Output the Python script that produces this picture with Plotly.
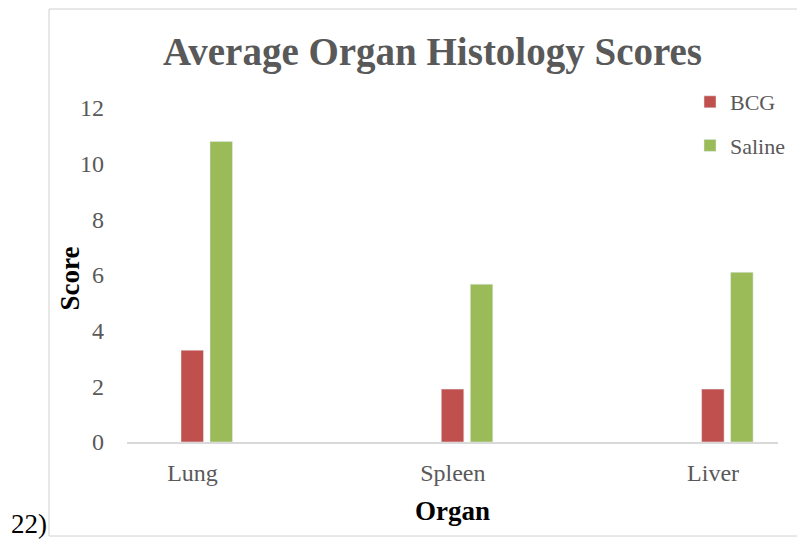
import plotly.graph_objects as go

organs = ["Lung", "Spleen", "Liver"]
bcg = [3.3, 1.9, 1.9]
saline = [10.8, 5.67, 6.1]
y_ticks = [0, 2, 4, 6, 8, 10, 12]

# page body has an 8px margin; the figure starts at (8, 8) on screen
OFF = 8
W, H = 805 - OFF, 540 - OFF
L, R, T, B = 127 - OFF, 27, 108 - OFF, H - (442 - OFF)
pw, ph = W - L - R, H - T - B

def px(x):  # screen x -> paper
    return (x - OFF - L) / pw

def py(y):  # screen y -> paper
    return (H - B - (y - OFF)) / ph

FONT = "Liberation Serif"
GRAY = "#595959"

unit = 260.3          # pixels per category
c0 = 192.5            # screen x of first category centre
bar_w = 22.5 / unit

fig = go.Figure()
fig.add_trace(go.Bar(x=organs, y=bcg, name="BCG", marker_color="#C0504D",
                     width=bar_w, offset=(181 - c0) / unit, legendgroup="a"))
fig.add_trace(go.Bar(x=organs, y=saline, name="Saline", marker_color="#9BBB59",
                     width=bar_w, offset=(210 - c0) / unit, legendgroup="b"))

frame = dict(color="#d0d0d0", width=1)
fx0, fx1, fy0, fy1 = px(49), px(830), py(536), py(9)

fig.update_layout(
    width=W, height=H,
    margin=dict(l=L, r=R, t=T, b=B, autoexpand=False),
    paper_bgcolor="white", plot_bgcolor="white",
    barmode="overlay",
    showlegend=True,
    legend=dict(x=px(690), y=py(81), xanchor="left", yanchor="top",
                font=dict(family=FONT, size=22, color=GRAY),
                tracegroupgap=12, bgcolor="rgba(0,0,0,0)"),
    xaxis=dict(type="category", range=[-(c0 - 127) / unit, 2 + (778 - (c0 + 2 * unit)) / unit],
               showline=True, linecolor="#d9d9d9", linewidth=2, ticks="",
               showgrid=False, tickfont=dict(family=FONT, size=24, color=GRAY),
               ticklabelstandoff=8),
    yaxis=dict(range=[0, 12], tickvals=y_ticks, showgrid=False, zeroline=False,
               showline=False, ticks="", tickfont=dict(family=FONT, size=24, color=GRAY),
               ticklabelstandoff=22),
    shapes=[
        dict(type="line", xref="paper", yref="paper", x0=fx0, x1=fx0, y0=fy0, y1=fy1, line=frame, layer="below"),
        dict(type="line", xref="paper", yref="paper", x0=fx0, x1=fx1, y0=fy1, y1=fy1, line=frame, layer="below"),
        dict(type="line", xref="paper", yref="paper", x0=fx0, x1=fx1, y0=fy0, y1=fy0, line=frame, layer="below"),
    ],
    annotations=[
        dict(text="<b>Average Organ Histology Scores</b>", xref="paper", yref="paper",
             x=px(432), y=py(52), xanchor="center", yanchor="middle", showarrow=False,
             font=dict(family=FONT, size=39, color=GRAY)),
        dict(text="<b>Score</b>", xref="paper", yref="paper", x=px(69.5), y=py(279),
             xanchor="center", yanchor="middle", textangle=-90, showarrow=False,
             font=dict(family=FONT, size=27, color="black")),
        dict(text="<b>Organ</b>", xref="paper", yref="paper", x=px(452), y=py(511),
             xanchor="center", yanchor="middle", showarrow=False,
             font=dict(family=FONT, size=27, color="black")),
        dict(text="22)", xref="paper", yref="paper", x=px(29), y=py(524),
             xanchor="center", yanchor="middle", showarrow=False,
             font=dict(family=FONT, size=27, color="black")),
    ],
)

fig.write_html("out.html")
